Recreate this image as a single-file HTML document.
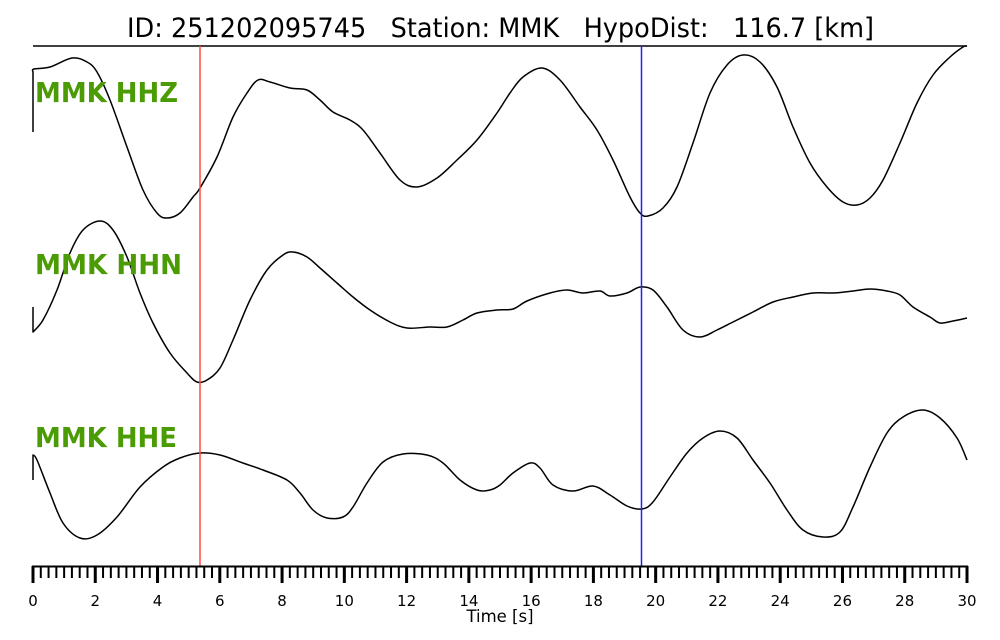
<!DOCTYPE html>
<html><head><meta charset="utf-8"><style>
html,body{margin:0;padding:0;background:#fff;}
svg{display:block;}
</style></head><body>
<svg id="s" width="1000" height="640" viewBox="0 0 1000 640" xmlns="http://www.w3.org/2000/svg">
<rect width="1000" height="640" fill="#fff"/>
<text x="127" y="37" font-family="DejaVu Sans, Liberation Sans, sans-serif" font-size="27" fill="#000" xml:space="preserve" textLength="747" lengthAdjust="spacingAndGlyphs">ID: 251202095745   Station: MMK   HypoDist:   116.7 [km]</text>
<line x1="33" y1="46" x2="967" y2="46" stroke="#000" stroke-width="1.4"/>

<g id="traces" fill="none" stroke="#000" stroke-width="1.5" stroke-linejoin="round"></g>

<line x1="200" y1="46" x2="200" y2="566" stroke="#ff4a4a" stroke-width="1.5"/>
<line x1="641.5" y1="46" x2="641.5" y2="566" stroke="#2020ff" stroke-width="1.5"/>

<g font-family="DejaVu Sans, Liberation Sans, sans-serif" font-weight="bold" font-size="28" fill="#4b9b05">
<text x="35" y="102" textLength="143" lengthAdjust="spacingAndGlyphs">MMK HHZ</text>
<text x="35" y="274" textLength="147" lengthAdjust="spacingAndGlyphs">MMK HHN</text>
<text x="35" y="447" textLength="142" lengthAdjust="spacingAndGlyphs">MMK HHE</text>
</g>

<line x1="32" y1="566.5" x2="968" y2="566.5" stroke="#000" stroke-width="2"/>
<g id="ticks" stroke="#000"></g>
<g id="labels" font-family="DejaVu Sans, Liberation Sans, sans-serif" font-size="15" fill="#000" text-anchor="middle"></g>
<text x="500" y="622" font-family="DejaVu Sans, Liberation Sans, sans-serif" font-size="16.5" fill="#000" text-anchor="middle">Time [s]</text>
</svg>
<script>
(function(){
var ns="http://www.w3.org/2000/svg";
var g=document.getElementById("ticks"), gl=document.getElementById("labels");
var x0=33, x1=967;
for(var i=0;i<=120;i++){
  var x=x0+(x1-x0)*i/120;
  var l=document.createElementNS(ns,"line");
  var major=(i%8===0);
  l.setAttribute("x1",x);l.setAttribute("x2",x);
  l.setAttribute("y1",566);l.setAttribute("y2",major?583:578);
  l.setAttribute("stroke-width",major?3:2);
  g.appendChild(l);
  if(major){
    var t=document.createElementNS(ns,"text");
    t.setAttribute("x",x);t.setAttribute("y",606);
    t.textContent=String(i/4);
    gl.appendChild(t);
  }
}
var data=[
"33,132|33,72 34,69 50,67 72,58 87,62 97,72 110,100 127,147 143,190 157,213 167,218 180,213 193,197 200,188 217,157 233,117 247,93 258,80 270,82 290,88 307,90 320,100 333,112 350,120 363,130 380,153 400,180 417,187 437,178 457,160 477,140 497,113 510,93 523,77 542,68 560,80 580,107 597,130 613,160 630,197 640,213 648,216 663,208 677,187 693,143 710,93 727,65 743,55 760,62 777,87 793,127 810,163 827,187 843,202 857,205 870,198 883,180 900,143 917,103 933,75 950,57 963,47 967,46",
"33,307|33,332 43,320 57,290 70,253 83,230 100,221 113,230 127,257 140,293 153,323 170,353 187,373 197,382 207,380 220,368 233,340 250,300 267,270 283,255 293,252 307,257 320,268 337,283 353,297 370,310 390,322 407,328 430,327 447,327 463,320 477,313 497,310 513,309 527,301 550,293 567,290 583,293 600,291 610,296 627,293 640,287 653,290 667,307 683,330 700,337 717,330 733,322 753,312 773,302 793,297 813,293 833,293 853,291 870,289 887,291 900,295 913,307 930,317 940,323 953,321 967,318",
"33,480|33,455 37,460 50,493 63,523 80,538 97,535 117,517 140,487 163,467 180,458 200,453 220,455 243,463 263,470 287,480 300,493 313,510 327,518 343,517 353,507 367,483 383,462 403,454 427,455 443,463 460,480 477,490 490,490 500,485 513,473 530,463 540,468 553,485 573,491 593,486 610,495 627,506 642,509 653,502 670,477 687,453 703,438 720,431 737,438 753,460 770,483 787,510 803,530 823,537 840,532 853,507 870,467 887,433 903,417 923,410 940,418 957,438 967,460"
];
var tg=document.getElementById("traces");
data.forEach(function(s){
  var parts=s.split("|");
  var st=parts[0].split(",").map(Number);
  var p=parts[1].trim().split(/\s+/).map(function(q){return q.split(",").map(Number);});
  var d="M"+st[0]+","+st[1]+" L"+p[0][0]+","+p[0][1];
  for(var i=0;i<p.length-1;i++){
    var a=p[i>0?i-1:i], b=p[i], c=p[i+1], e=p[i+2<p.length?i+2:i+1];
    var c1x=b[0]+(c[0]-a[0])/6, c1y=b[1]+(c[1]-a[1])/6;
    var c2x=c[0]-(e[0]-b[0])/6, c2y=c[1]-(e[1]-b[1])/6;
    d+=" C"+c1x.toFixed(2)+","+c1y.toFixed(2)+" "+c2x.toFixed(2)+","+c2y.toFixed(2)+" "+c[0]+","+c[1];
  }
  var path=document.createElementNS(ns,"path");
  path.setAttribute("d",d);
  tg.appendChild(path);
});
})();
</script>
</body></html>
